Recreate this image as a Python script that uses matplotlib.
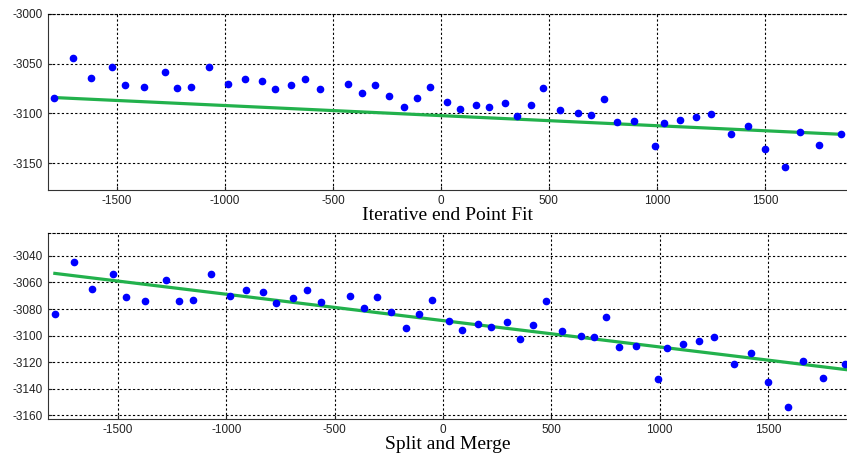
import matplotlib.pyplot as plt
import numpy as np

plt.rcParams['axes.unicode_minus'] = False

# sample points (same data in both panels)
x_pts = [-1792, -1704, -1619, -1523, -1463, -1375, -1278, -1221, -1156, -1073,
         -985, -909, -830, -769, -693, -627, -562, -431, -367, -303,
         -241, -171, -113, -49, 28, 88, 163, 222, 297, 354,
         415, 474, 551, 635, 695, 754, 814, 892, 992, 1034,
         1108, 1183, 1251, 1343, 1423, 1502, 1594, 1663, 1752, 1854]
y_pts = [-3084, -3044.5, -3064.8, -3053.5, -3071, -3073.8, -3058.3, -3074.3, -3073.3, -3053.5,
         -3070.5, -3065.5, -3067.5, -3075.8, -3071.5, -3065.5, -3075, -3070.3, -3079, -3071,
         -3082.3, -3094, -3084, -3073, -3088.8, -3096, -3091.5, -3093.3, -3089.8, -3102.8,
         -3092, -3074.3, -3096.5, -3100, -3101.3, -3085.8, -3108.3, -3107.5, -3133, -3109.5,
         -3106.3, -3104, -3100.8, -3121, -3112.8, -3135.3, -3153.5, -3119, -3131.8, -3121]

x_pts = np.array(x_pts)
y_pts = np.array(y_pts)

# iterative end point fit: line through first and last point
iep_x = [x_pts[0], x_pts[-1]]
iep_y = [y_pts[0], y_pts[-1]]

# split and merge: least squares line over all points
k, b = np.polyfit(x_pts, y_pts, 1)
sm_x = np.array([x_pts[0], 1865])
sm_y = k * sm_x + b

green = '#22b14c'
W, H = 847, 459
fig = plt.figure(figsize=(W / 100, H / 100), dpi=100)


def style(ax, xlim, ylim, yticks, title):
    ax.set_xlim(xlim)
    ax.set_ylim(ylim)
    ax.set_xticks([-1500, -1000, -500, 0, 500, 1000, 1500])
    ax.set_yticks(yticks)
    ax.grid(True, color='black', linestyle=(0, (2, 2)), linewidth=0.8)
    ax.set_axisbelow(True)
    ax.spines['right'].set_visible(False)
    ax.spines['top'].set_linestyle((0, (2, 2)))
    ax.spines['top'].set_linewidth(0.8)
    ax.spines['left'].set_color('#333333')
    ax.spines['bottom'].set_color('#333333')
    ax.tick_params(direction='in', length=3, labelsize=8.5, colors='#222222',
                   top=False, right=False)
    for lab in ax.get_xticklabels() + ax.get_yticklabels():
        lab.set_family('Liberation Sans')
    ax.set_xlabel(title, family='Liberation Serif', fontsize=14, labelpad=0)


ax1 = fig.add_axes([48 / W, 1 - 190 / H, (W - 48) / W, 176 / H])
ax1.plot(iep_x, iep_y, color=green, lw=2.3, zorder=2)
ax1.plot(x_pts, y_pts, 'o', color='blue', ms=4.5, zorder=3)
style(ax1, (-1819, 1880), (-3177, -3000), [-3150, -3100, -3050, -3000],
      'Iterative end Point Fit')

ax2 = fig.add_axes([47.7 / W, 1 - 419.3 / H, (W - 47.7) / W, 186 / H])
ax2.plot(sm_x, sm_y, color=green, lw=2.3, zorder=2)
ax2.plot(x_pts, y_pts, 'o', color='blue', ms=4.5, zorder=3)
style(ax2, (-1825, 1865), (-3163, -3023),
      [-3160, -3140, -3120, -3100, -3080, -3060, -3040], 'Split and Merge')

fig.savefig('out.png', dpi=100)
